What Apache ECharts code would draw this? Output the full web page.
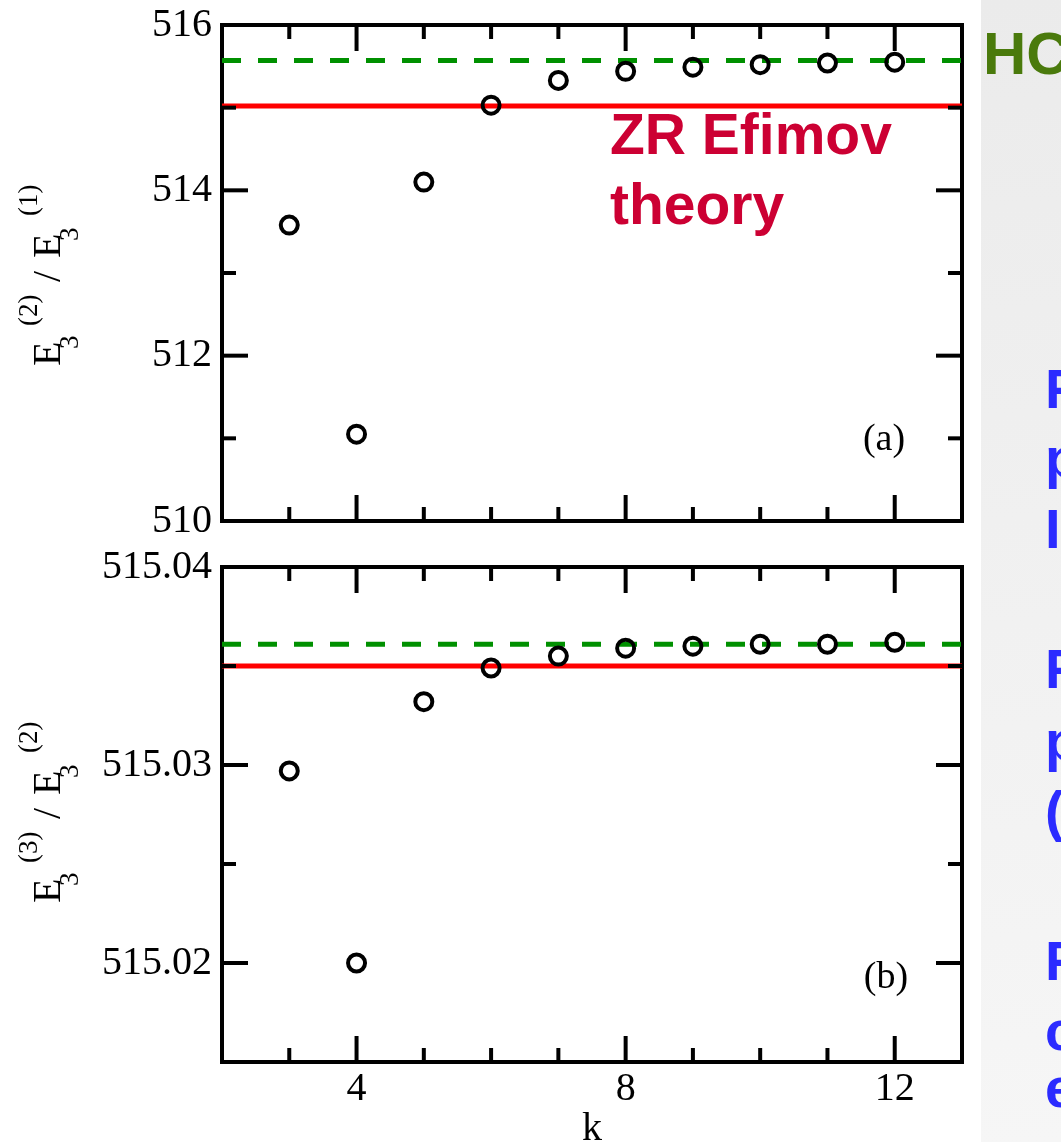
<!DOCTYPE html>
<html>
<head>
<meta charset="utf-8">
<script src="https://cdn.jsdelivr.net/npm/echarts@6/dist/echarts.min.js"></script>
<style>
html,body{margin:0;padding:0;background:#fff;}
#chart{width:1061px;height:1142px;}
</style>
</head>
<body>
<div id="chart"></div>
<script>
// ---- data ----
const kValues = [3, 4, 5, 6, 7, 8, 9, 10, 11, 12];
const ratio21 = [513.58, 511.05, 514.10, 515.03, 515.33, 515.44, 515.49, 515.52, 515.54, 515.55];
const ratio32 = [515.0297, 515.0200, 515.0332, 515.0349, 515.0355, 515.0359, 515.0360, 515.0361, 515.0361, 515.0362];
const hcLevels = [515.57, 515.0361];   // green dashed (a), (b)
const zrLevels = [515.02, 515.0350];   // red solid (a), (b)
const kRange = [2, 13];
const kMajorTicks = [4, 8, 12];
const kMinorTicks = [3, 5, 6, 7, 9, 10, 11];
const yTopRange = [510, 516];
const yTopMajor = [510, 512, 514, 516];
const yTopMinor = [511, 513, 515];
const yBotRange = [515.015, 515.04];
const yBotMajor = [515.02, 515.03, 515.04];
const yBotMinor = [515.015, 515.025, 515.035];

const serif = '"Liberation Serif", "DejaVu Serif", serif';
const sans = '"Liberation Sans", Arial, sans-serif';

const grids = [
  {left: 222, top: 25, width: 740, height: 496},
  {left: 222, top: 567, width: 740, height: 495}
].map(g => Object.assign({containLabel: false, outerBoundsMode: 'none', show: true,
                           borderColor: '#000', borderWidth: 4, backgroundColor: 'transparent'}, g));

function xAxisDef(gi, showLabel) {
  return {
    type: 'value', gridIndex: gi, position: 'bottom', min: kRange[0], max: kRange[1],
    axisLine: {show: false, onZero: false},
    axisTick: {show: false},
    axisLabel: {show: showLabel, customValues: kMajorTicks, margin: 7, color: '#000',
                fontFamily: serif, fontSize: 40},
    splitLine: {show: false},
    name: showLabel ? 'k' : '', nameLocation: 'middle', nameGap: 47, nameMoveOverlap: false,
    nameTextStyle: {fontFamily: serif, fontSize: 40, color: '#000'}
  };
}
function yAxisDef(gi, range, ticks, dec) {
  return {
    type: 'value', gridIndex: gi, position: 'left', min: range[0], max: range[1],
    axisLine: {show: false, onZero: false},
    axisTick: {show: false},
    axisLabel: {show: true, customValues: ticks, margin: 10, color: '#000',
                fontFamily: serif, fontSize: 40,
                formatter: v => Number(v).toFixed(dec)},
    splitLine: {show: false}
  };
}

// ticks drawn inward on all four sides, positioned through the axis scales
function xTickSeries(gi, ticks, yRange, len) {
  return {
    type: 'custom', xAxisIndex: gi, yAxisIndex: gi, silent: true, z: 5, clip: false,
    data: ticks.map(v => [v, yRange[0], yRange[1]]),
    encode: {x: 0, y: [1, 2]},
    renderItem: (params, api) => {
      const b = api.coord([api.value(0), api.value(1)]);
      const t = api.coord([api.value(0), api.value(2)]);
      const st = {stroke: '#000', lineWidth: 4};
      return {type: 'group', children: [
        {type: 'line', shape: {x1: b[0], y1: b[1], x2: b[0], y2: b[1] - len}, style: st},
        {type: 'line', shape: {x1: t[0], y1: t[1], x2: t[0], y2: t[1] + len}, style: st}
      ]};
    }
  };
}
function yTickSeries(gi, ticks, len) {
  return {
    type: 'custom', xAxisIndex: gi, yAxisIndex: gi, silent: true, z: 5, clip: false,
    data: ticks.map(v => [kRange[0], kRange[1], v]),
    encode: {x: [0, 1], y: 2},
    renderItem: (params, api) => {
      const l = api.coord([api.value(0), api.value(2)]);
      const r = api.coord([api.value(1), api.value(2)]);
      const st = {stroke: '#000', lineWidth: 4};
      return {type: 'group', children: [
        {type: 'line', shape: {x1: l[0], y1: l[1], x2: l[0] + len, y2: l[1]}, style: st},
        {type: 'line', shape: {x1: r[0], y1: r[1], x2: r[0] - len, y2: r[1]}, style: st}
      ]};
    }
  };
}

function levelSeries(gi, v, color, dashed) {
  return {
    type: 'line', xAxisIndex: gi, yAxisIndex: gi, symbol: 'none', silent: true,
    data: [[kRange[0], v], [kRange[1], v]],
    lineStyle: {color: color, width: 5, type: dashed ? [19, 17] : 'solid'},
    z: 1
  };
}
function pointSeries(gi, vals) {
  return {
    type: 'scatter', xAxisIndex: gi, yAxisIndex: gi,
    data: kValues.map((k, i) => [k, vals[i]]),
    symbol: 'circle', symbolSize: 17,
    itemStyle: {color: 'rgba(0,0,0,0)', borderColor: '#000', borderWidth: 4, opacity: 1},
    z: 3
  };
}

function titleGroup(x, y, supA, supB) {
  const big = '40px ' + serif, small = '27px ' + serif;
  const t = (tx, lx, ly, f) => ({type: 'text', x: lx, y: ly,
    style: {text: tx, font: f, fill: '#000', textAlign: 'left', textVerticalAlign: 'middle'}});
  return {
    type: 'group', x: x, y: y, rotation: Math.PI / 2,
    children: [
      t('E', 0, -14, big), t('3', 17, 8, small), t(supA, 40, -33, small),
      t('/', 84, -14, big),
      t('E', 108, -14, big), t('3', 125, 8, small), t(supB, 150, -33, small)
    ]
  };
}

const blue = '#2b2bff';
const blueFont = 'bold 56px ' + sans;
function sideText(tx, y) {
  return {type: 'text', x: 1045, y: y,
    style: {text: tx, font: blueFont, fill: blue, textAlign: 'left', textVerticalAlign: 'middle'}};
}

const option = {
  backgroundColor: '#fff',
  animation: false,
  grid: grids,
  xAxis: [xAxisDef(0, false), xAxisDef(1, true)],
  yAxis: [yAxisDef(0, yTopRange, yTopMajor, 0), yAxisDef(1, yBotRange, yBotMajor, 2)],
  series: [
    levelSeries(0, hcLevels[0], '#009000', true),
    levelSeries(0, zrLevels[0], '#ff0000', false),
    pointSeries(0, ratio21),
    levelSeries(1, hcLevels[1], '#009000', true),
    levelSeries(1, zrLevels[1], '#ff0000', false),
    pointSeries(1, ratio32),
    xTickSeries(0, kMajorTicks, yTopRange, 26),
    xTickSeries(0, kMinorTicks, yTopRange, 14),
    yTickSeries(0, yTopMajor, 26),
    yTickSeries(0, yTopMinor, 14),
    xTickSeries(1, kMajorTicks, yBotRange, 26),
    xTickSeries(1, kMinorTicks, yBotRange, 14),
    yTickSeries(1, yBotMajor, 26),
    yTickSeries(1, yBotMinor, 14)
  ],
  graphic: [
    {type: 'rect', z: -10, silent: true, shape: {x: 981, y: 0, width: 80, height: 1142},
     style: {fill: new echarts.graphic.LinearGradient(0, 0, 1, 1, [
       {offset: 0, color: '#ebebeb'}, {offset: 1, color: '#f6f6f6'}])}},
    {type: 'text', x: 983, y: 57,
     style: {text: 'HC', font: 'bold 60px ' + sans, fill: '#4a7a0c', textAlign: 'left', textVerticalAlign: 'middle'}},
    {type: 'text', x: 610, y: 138,
     style: {text: 'ZR Efimov', font: 'bold 57px ' + sans, fill: '#cc0033', textAlign: 'left', textVerticalAlign: 'middle'}},
    {type: 'text', x: 610, y: 208,
     style: {text: 'theory', font: 'bold 57px ' + sans, fill: '#cc0033', textAlign: 'left', textVerticalAlign: 'middle'}},
    {type: 'text', x: 884, y: 440,
     style: {text: '(a)', font: '38px ' + serif, fill: '#000', textAlign: 'center', textVerticalAlign: 'middle'}},
    {type: 'text', x: 886, y: 978,
     style: {text: '(b)', font: '38px ' + serif, fill: '#000', textAlign: 'center', textVerticalAlign: 'middle'}},
    titleGroup(63, 366, '(2)', '(1)'),
    titleGroup(63, 903, '(3)', '(2)'),
    sideText('F', 393), sideText('p', 462), sideText('I', 533),
    sideText('F', 673), sideText('p', 745), sideText('(', 815),
    sideText('F', 965), sideText('c', 1035), sideText('e', 1092)
  ]
};

const chart = echarts.init(document.getElementById('chart'), null, {renderer: 'canvas', width: 1061, height: 1142});
chart.setOption(option);
</script>
</body>
</html>
